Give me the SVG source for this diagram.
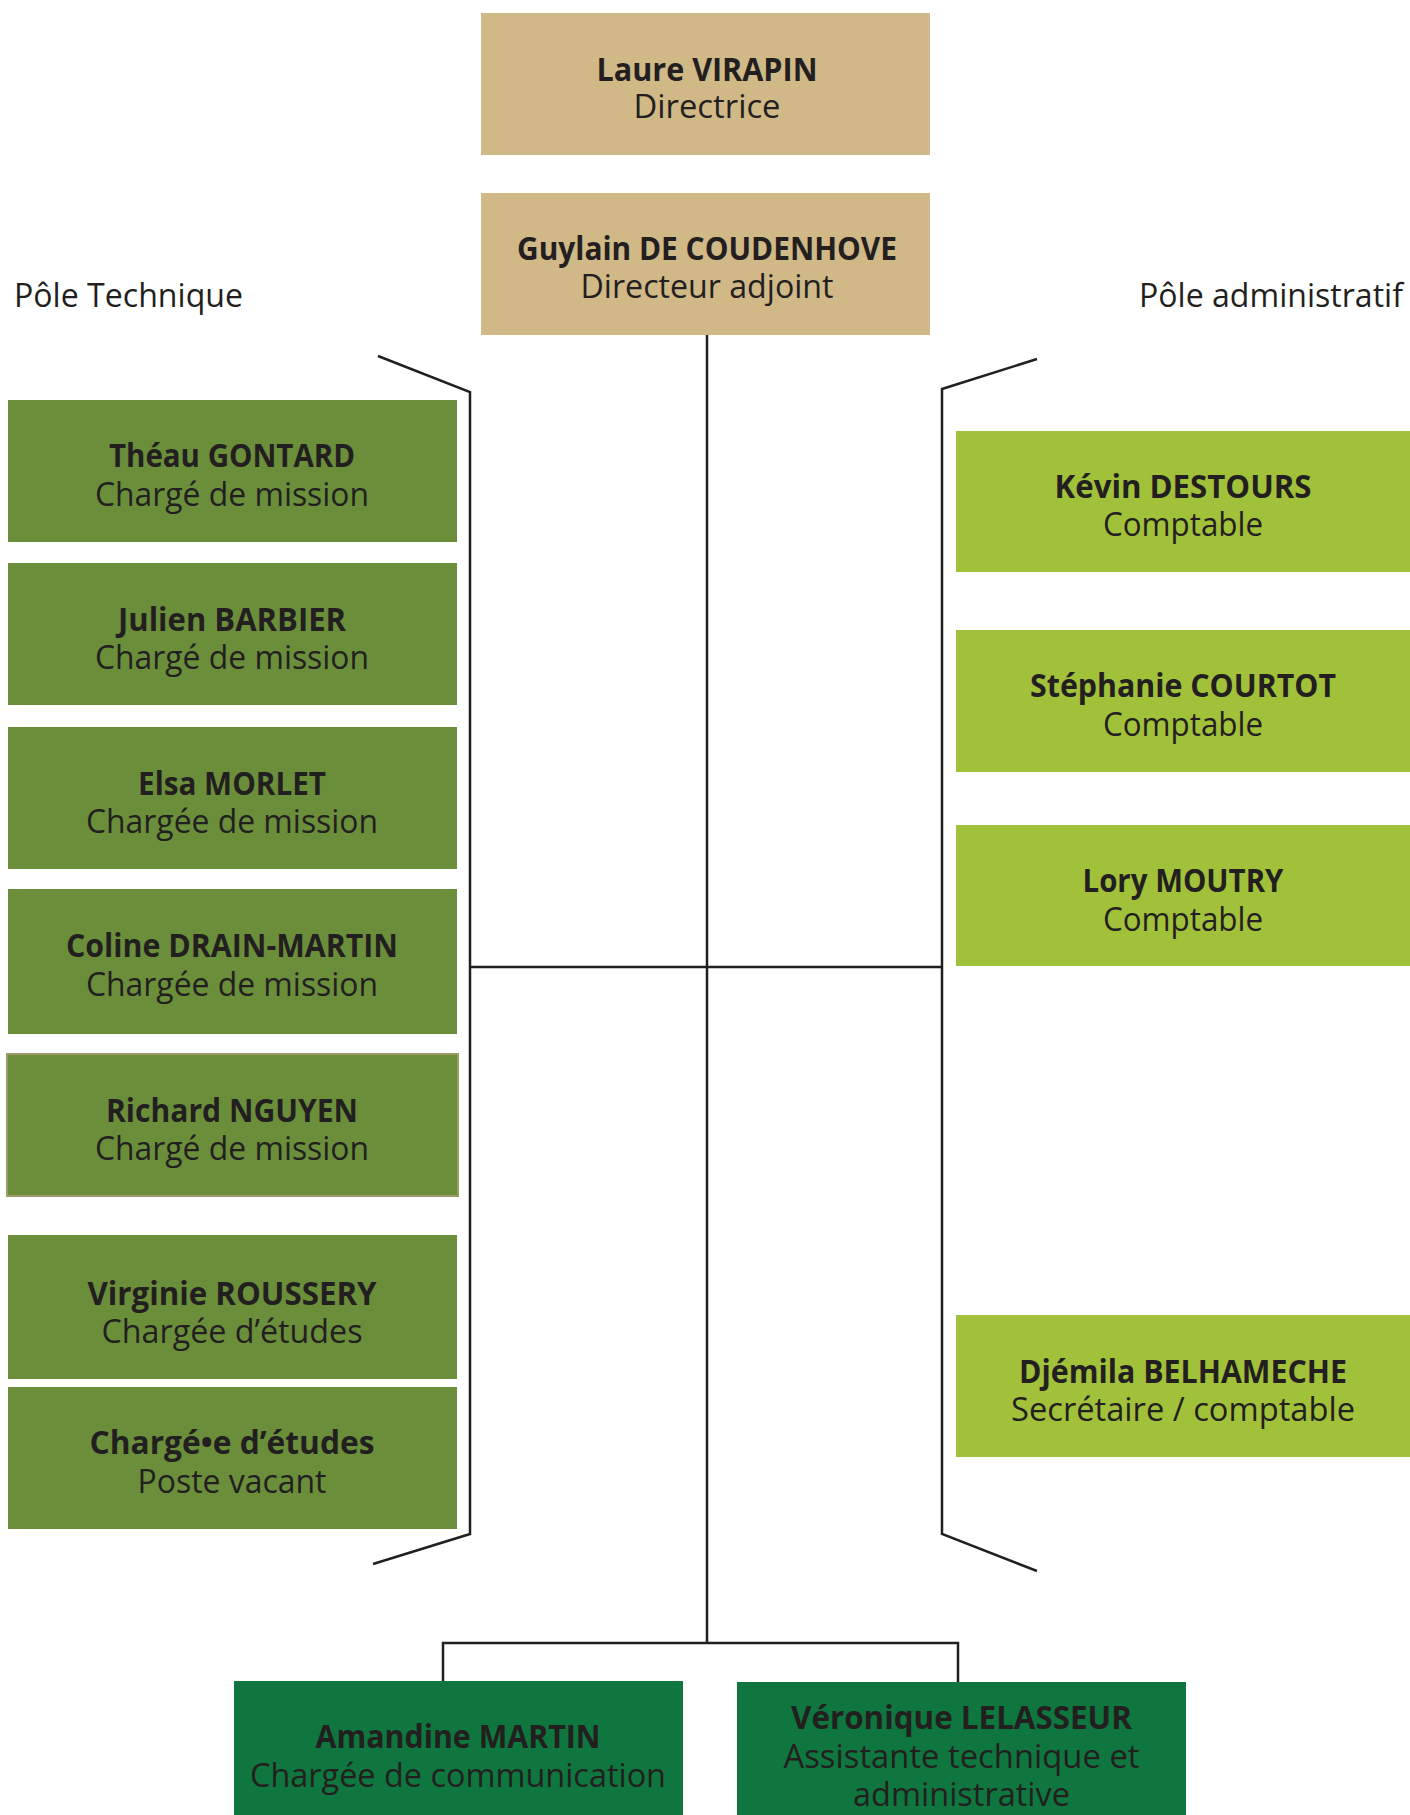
<svg xmlns="http://www.w3.org/2000/svg" width="1410" height="1815" viewBox="0 0 1410 1815">
  <style>
    .tan { fill: #D0B887; }
    .olive { fill: #6B8E3B; }
    .lime { fill: #A2C13A; }
    .dark { fill: #0E763E; }
    text { font-family: "Open Sans", "Noto Sans", "DejaVu Sans", sans-serif; fill: #231F20; font-size: 32px; text-anchor: middle; }
    .n { font-weight: bold; }
    .pole { text-anchor: start; }
    .ln { fill: none; stroke: #231F20; stroke-width: 2.5; }
  </style>
  <rect width="1410" height="1815" fill="#FFFFFF"/>

  <g id="connectors">
    <line class="ln" x1="707" y1="335" x2="707" y2="1643"/>
    <line class="ln" x1="470" y1="967" x2="942" y2="967"/>
    <polyline class="ln" points="378,356 470,392 470,1534 373,1564"/>
    <polyline class="ln" points="1037,359 942,389 942,1534 1037,1571"/>
    <polyline class="ln" points="443,1683 443,1643 958,1643 958,1683"/>
  </g>

  <g id="labels">
    <text class="pole" x="14" y="307" textLength="229" lengthAdjust="spacingAndGlyphs">Pôle Technique</text>
    <text class="pole" x="1139" y="307" textLength="264" lengthAdjust="spacingAndGlyphs">Pôle administratif</text>
  </g>

  <g id="n-virapin">
    <rect class="tan" x="481" y="13" width="449" height="142"/>
    <text class="n" x="707" y="81" textLength="221" lengthAdjust="spacingAndGlyphs">Laure VIRAPIN</text>
    <text x="707" y="118" textLength="147" lengthAdjust="spacingAndGlyphs">Directrice</text>
  </g>
  <g id="n-coudenhove">
    <rect class="tan" x="481" y="193" width="449" height="142"/>
    <text class="n" x="707" y="260" textLength="380" lengthAdjust="spacingAndGlyphs">Guylain DE COUDENHOVE</text>
    <text x="707" y="298" textLength="253" lengthAdjust="spacingAndGlyphs">Directeur adjoint</text>
  </g>

  <g id="n-gontard">
    <rect class="olive" x="8" y="400" width="449" height="142"/>
    <text class="n" x="232" y="467" textLength="246" lengthAdjust="spacingAndGlyphs">Théau GONTARD</text>
    <text x="232" y="506" textLength="274" lengthAdjust="spacingAndGlyphs">Chargé de mission</text>
  </g>
  <g id="n-barbier">
    <rect class="olive" x="8" y="563" width="449" height="142"/>
    <text class="n" x="232" y="631" textLength="228" lengthAdjust="spacingAndGlyphs">Julien BARBIER</text>
    <text x="232" y="669" textLength="274" lengthAdjust="spacingAndGlyphs">Chargé de mission</text>
  </g>
  <g id="n-morlet">
    <rect class="olive" x="8" y="727" width="449" height="142"/>
    <text class="n" x="232" y="795" textLength="188" lengthAdjust="spacingAndGlyphs">Elsa MORLET</text>
    <text x="232" y="833" textLength="292" lengthAdjust="spacingAndGlyphs">Chargée de mission</text>
  </g>
  <g id="n-drain-martin">
    <rect class="olive" x="8" y="889" width="449" height="145"/>
    <text class="n" x="232" y="957" textLength="332" lengthAdjust="spacingAndGlyphs">Coline DRAIN-MARTIN</text>
    <text x="232" y="996" textLength="292" lengthAdjust="spacingAndGlyphs">Chargée de mission</text>
  </g>
  <g id="n-nguyen">
    <rect class="olive" x="7" y="1054" width="451" height="142" stroke="#9C9A68" stroke-width="2"/>
    <text class="n" x="232" y="1122" textLength="252" lengthAdjust="spacingAndGlyphs">Richard NGUYEN</text>
    <text x="232" y="1160" textLength="274" lengthAdjust="spacingAndGlyphs">Chargé de mission</text>
  </g>
  <g id="n-roussery">
    <rect class="olive" x="8" y="1235" width="449" height="144"/>
    <text class="n" x="232" y="1305" textLength="289" lengthAdjust="spacingAndGlyphs">Virginie ROUSSERY</text>
    <text x="232" y="1343" textLength="261" lengthAdjust="spacingAndGlyphs">Chargée d’études</text>
  </g>
  <g id="n-vacant">
    <rect class="olive" x="8" y="1387" width="449" height="142"/>
    <text class="n" x="232" y="1454" textLength="285" lengthAdjust="spacingAndGlyphs">Chargé•e d’études</text>
    <text x="232" y="1493" textLength="189" lengthAdjust="spacingAndGlyphs">Poste vacant</text>
  </g>

  <g id="n-destours">
    <rect class="lime" x="956" y="431" width="454" height="141"/>
    <text class="n" x="1183" y="498" textLength="257" lengthAdjust="spacingAndGlyphs">Kévin DESTOURS</text>
    <text x="1183" y="536" textLength="160" lengthAdjust="spacingAndGlyphs">Comptable</text>
  </g>
  <g id="n-courtot">
    <rect class="lime" x="956" y="630" width="454" height="142"/>
    <text class="n" x="1183" y="697" textLength="306" lengthAdjust="spacingAndGlyphs">Stéphanie COURTOT</text>
    <text x="1183" y="736" textLength="160" lengthAdjust="spacingAndGlyphs">Comptable</text>
  </g>
  <g id="n-moutry">
    <rect class="lime" x="956" y="825" width="454" height="141"/>
    <text class="n" x="1183" y="892" textLength="201" lengthAdjust="spacingAndGlyphs">Lory MOUTRY</text>
    <text x="1183" y="931" textLength="160" lengthAdjust="spacingAndGlyphs">Comptable</text>
  </g>
  <g id="n-belhameche">
    <rect class="lime" x="956" y="1315" width="454" height="142"/>
    <text class="n" x="1183" y="1383" textLength="328" lengthAdjust="spacingAndGlyphs">Djémila BELHAMECHE</text>
    <text x="1183" y="1421" textLength="344" lengthAdjust="spacingAndGlyphs">Secrétaire / comptable</text>
  </g>

  <g id="n-martin">
    <rect class="dark" x="234" y="1681" width="449" height="140"/>
    <text class="n" x="458" y="1748" textLength="285" lengthAdjust="spacingAndGlyphs">Amandine MARTIN</text>
    <text x="458" y="1787" textLength="416" lengthAdjust="spacingAndGlyphs">Chargée de communication</text>
  </g>
  <g id="n-lelasseur">
    <rect class="dark" x="737" y="1682" width="449" height="140"/>
    <text class="n" x="961.5" y="1729" textLength="341" lengthAdjust="spacingAndGlyphs">Véronique LELASSEUR</text>
    <text x="961.5" y="1768" textLength="356" lengthAdjust="spacingAndGlyphs">Assistante technique et</text>
    <text x="961.5" y="1806" textLength="217" lengthAdjust="spacingAndGlyphs">administrative</text>
  </g>
</svg>
